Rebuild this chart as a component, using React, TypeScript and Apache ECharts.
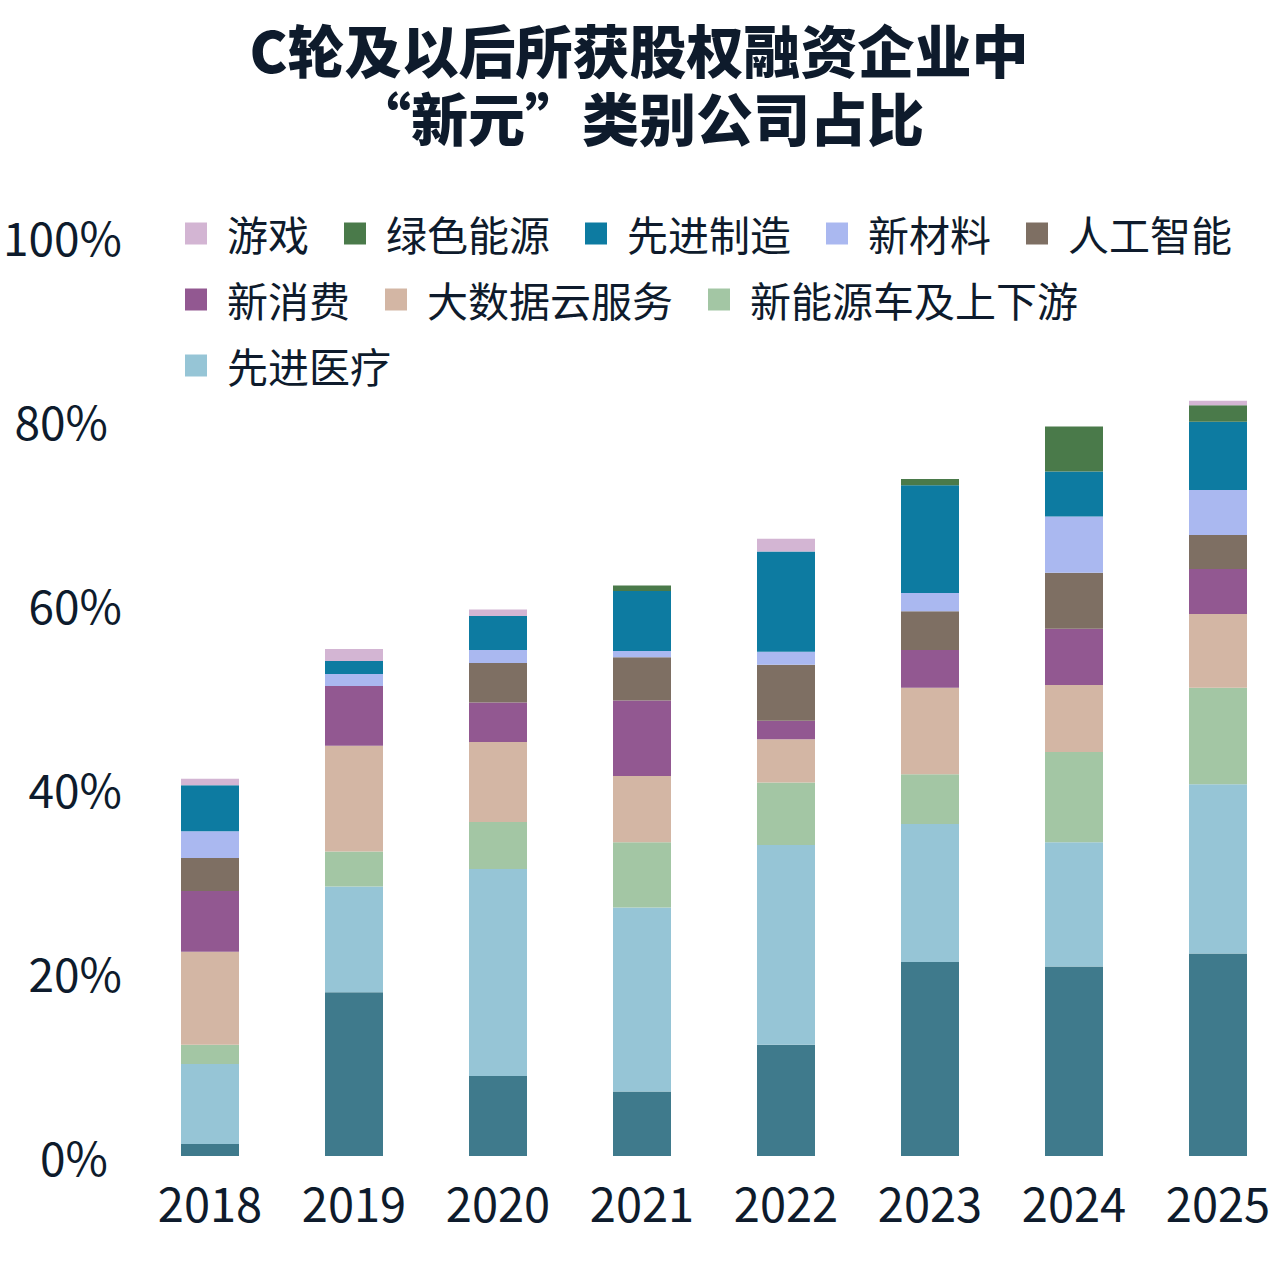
import React, { useEffect, useRef } from "react";
import * as echarts from "echarts";

const years = ["2018", "2019", "2020", "2021", "2022", "2023", "2024", "2025"];

const baseSeg = [1.3, 17.8, 8.7, 7.0, 12.1, 21.1, 20.6, 22.0];
const medical = [8.7, 11.5, 22.5, 20.0, 21.7, 15.0, 13.5, 18.4];
const nev = [2.1, 3.8, 5.1, 7.1, 6.8, 5.4, 9.8, 10.5];
const bigData = [10.1, 11.5, 8.7, 7.2, 4.7, 9.4, 7.3, 8.0];
const consumer = [6.6, 6.5, 4.3, 8.2, 2.0, 4.1, 6.1, 4.9];
const ai = [3.6, 0, 4.3, 4.7, 6.1, 4.2, 6.1, 3.7];
const materials = [2.9, 1.3, 1.4, 0.7, 1.4, 2.0, 6.1, 4.9];
const manufacturing = [5.0, 1.4, 3.7, 6.5, 10.9, 11.7, 4.9, 7.4];
const greenEnergy = [0, 0, 0, 0.6, 0, 0.7, 4.9, 1.8];
const games = [0.7, 1.3, 0.7, 0, 1.4, 0, 0, 0.5];

const titleLines = ["C轮及以后所获股权融资企业中", "“新元”类别公司占比"];
const shiftedTicks = [0, 80];

const legendNames = ["游戏", "绿色能源", "先进制造", "新材料", "人工智能", "新消费", "大数据云服务", "新能源车及上下游", "先进医疗"];

const stackDefs = [
  { name: "其他", data: baseSeg, color: "#3f7a8c" },
  { name: "先进医疗", data: medical, color: "#96c5d6" },
  { name: "新能源车及上下游", data: nev, color: "#a3c6a4" },
  { name: "大数据云服务", data: bigData, color: "#d3b6a4" },
  { name: "新消费", data: consumer, color: "#925891" },
  { name: "人工智能", data: ai, color: "#7e6f63" },
  { name: "新材料", data: materials, color: "#aab8f0" },
  { name: "先进制造", data: manufacturing, color: "#0d7ba1" },
  { name: "绿色能源", data: greenEnergy, color: "#4a7a4a" },
  { name: "游戏", data: games, color: "#d3b5d3" },
];

const FONT = "'Noto Sans CJK SC', 'Noto Sans', sans-serif";
const INK = "#0e1b2c";

export default function App() {
  const ref = useRef<HTMLDivElement>(null);
  useEffect(() => {
    if (!ref.current) return;
    const chart = echarts.init(ref.current, undefined, { renderer: "svg" });
    chart.setOption({
      animation: false,
      backgroundColor: "#ffffff",
      title: titleLines.map((t, i) => ({
        text: t,
        left: 639,
        textAlign: "center",
        top: 19 + i * 68,
        padding: 0,
        textStyle: { fontFamily: FONT, fontSize: 57, fontWeight: 900, color: INK },
      })),
      legend: {
        data: legendNames,
        left: 180,
        top: 208,
        width: 1090,
        itemWidth: 22,
        itemHeight: 22,
        itemGap: 25,
        icon: "rect",
        textStyle: { fontFamily: FONT, fontSize: 41, lineHeight: 30, color: INK, padding: [0, 10, 0, 15] },
      },
      grid: { left: 138, width: 1152, top: 236, bottom: 110, containLabel: false },
      xAxis: {
        type: "category",
        data: years,
        axisLine: { show: false },
        axisTick: { show: false },
        axisLabel: { fontFamily: FONT, fontSize: 47, color: INK, margin: 22 },
      },
      yAxis: {
        type: "value",
        min: 0,
        max: 100,
        interval: 20,
        splitLine: { show: false },
        axisLine: { show: false },
        axisTick: { show: false },
        axisLabel: {
          margin: 16,
          formatter: (v: number) => (shiftedTicks.includes(v) ? `{b|${v}%}` : `{a|${v}%}`),
          rich: {
            a: { fontFamily: FONT, fontSize: 46, color: INK },
            b: { fontFamily: FONT, fontSize: 46, color: INK, padding: [0, 14, 0, 0] },
          },
        },
      },
      series: stackDefs.map((s) => ({
        name: s.name,
        type: "bar",
        stack: "total",
        barWidth: 58,
        data: s.data,
        itemStyle: { color: s.color },
      })),
    });
    return () => chart.dispose();
  }, []);
  return (
    <div style={{ position: "absolute", left: 0, top: 0, width: 1280, height: 1266, overflow: "hidden", background: "#fff" }}>
      <div ref={ref} style={{ width: 1300, height: 1266 }} />
    </div>
  );
}
